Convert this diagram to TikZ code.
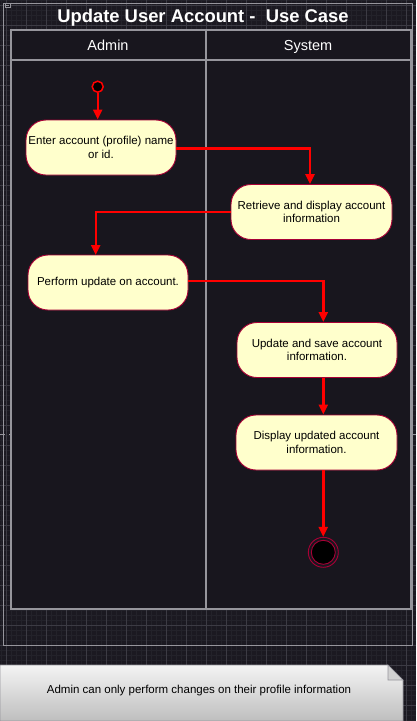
\documentclass[tikz,border=0pt]{standalone}
\usepackage{fontspec}
\setmainfont{Liberation Sans}
\usetikzlibrary{arrows.meta}

\definecolor{canvas}{RGB}{27,25,33}
\definecolor{lanefill}{RGB}{24,22,30}
\definecolor{gridmajor}{RGB}{60,59,68}
\definecolor{gridminor}{RGB}{35,34,42}
\definecolor{actfill}{RGB}{255,255,204}
\definecolor{actline}{RGB}{168,0,54}
\definecolor{flowred}{RGB}{255,0,0}
\definecolor{frameline}{RGB}{150,149,156}
\definecolor{notetop}{RGB}{244,244,244}
\definecolor{notebottom}{RGB}{190,190,190}

\begin{document}
\begin{tikzpicture}[x=1pt,y=-1pt,
  activity/.style={draw=actline, fill=actfill, line width=0.9pt, rounded corners=20pt,
    minimum width=#1, minimum height=55pt, align=center, text=black, inner sep=2pt,
    font=\fontsize{11.5}{13.5}\selectfont},
  activity/.default=160pt,
  control flow/.style={draw=flowred, line width=2.4pt, -{Triangle[length=10pt,width=9pt]}},
  lane title/.style={text=white, anchor=base, font=\fontsize{14.5}{16}\selectfont}]

\useasboundingbox (0,0) rectangle (416,721);
\fill[canvas] (0,0) rectangle (416,721);

% grid
\foreach \x in {1.7,6.7,...,416} \draw[gridminor, line width=0.5pt] (\x,0) -- (\x,721);
\foreach \y in {0,5,...,721} \draw[gridminor, line width=0.5pt] (0,\y) -- (416,\y);
\foreach \x in {6.7,26.7,...,416} \draw[gridmajor, line width=0.7pt] (\x,0) -- (\x,721);
\foreach \y in {5,25,...,721} \draw[gridmajor, line width=0.7pt] (0,\y) -- (416,\y);

% frame and swimlanes
\draw[frameline, line width=1pt] (3,3) rectangle (412,645);
\draw[frameline, line width=0.6pt, fill=canvas] (5,3) rectangle (10,7);
\draw[frameline, line width=0.6pt] (6,5) -- (9,5);
\draw[frameline, line width=1.5pt, fill=lanefill] (11,30) rectangle (411,609);
\draw[frameline, line width=1.5pt] (11,60) -- (411,60);
\draw[frameline, line width=1.5pt] (206,30) -- (206,609);
\draw[frameline, line width=1.5pt] (0,434.5) -- (5,434.5) (9,434.5) -- (12,434.5);
\draw[frameline, line width=1.5pt] (410,434.5) -- (416,434.5);

\node[text=white, anchor=base, font=\fontsize{18.4}{20}\selectfont\bfseries] (title) at (203,22.5) {Update User Account -~ Use Case};
\node[lane title] (admin) at (108,50) {Admin};
\node[lane title] (system) at (308,50) {System};

% activities
\node[circle, fill=black, draw=flowred, line width=1.5pt, minimum size=11pt, inner sep=0pt] (start) at (97.7,86.7) {};
\node[activity=150pt] (enter) at (101,147.5) {Enter account (profile) name\\or id.};
\node[activity=161pt] (retrieve) at (311.5,212) {Retrieve and display account\\information};
\node[activity=160pt] (perform) at (108,282.5) {Perform update on account.};
\node[activity=160pt] (update) at (317,350) {Update and save account\\information.};
\node[activity=161pt] (display) at (316.5,442.5) {Display updated account\\information.};
\node[circle, draw=actline, line width=0.9pt, minimum size=30pt, inner sep=0pt] (final) at (323.3,552.3) {};
\fill[black] (final) circle (12);
\draw[actline, line width=0.9pt] (final) circle (12);

\draw[control flow] (start) -- (start |- enter.north);
\draw[control flow] ([yshift=-1pt]enter.east) -| (310,184);
\coordinate (perform in) at (95.7,255);
\draw[control flow] (retrieve.west) -| (perform in);
\draw[control flow] ([yshift=1.5pt]perform.east) -| (final |- update.north);
\draw[control flow] (final |- update.south) -- (final |- display.north);
\draw[control flow] (final |- display.south) -- (final);

% note
\shade[top color=notetop, bottom color=notebottom, draw=frameline, line width=0.6pt]
  (0,665) -- (388,665) -- (403,680) -- (403,721) -- (0,721) -- cycle;
\filldraw[fill=notebottom!70!white, draw=frameline, line width=0.6pt] (388,665) -- (388,680) -- (403,680) -- cycle;
\node[text=black, font=\fontsize{11.5}{13.5}\selectfont] (note) at (199,690.7) {Admin can only perform changes on their profile information};

\end{tikzpicture}
\end{document}
